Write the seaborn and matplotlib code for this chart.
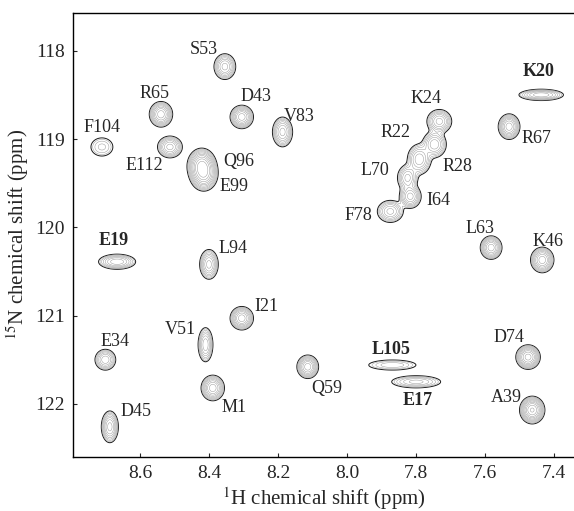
import numpy as np
import seaborn as sns
import matplotlib.pyplot as plt

# peak table (1H ppm, 15N ppm, line widths, height)
names = ['S53', 'R65', 'D43', 'V83', 'F104', 'E112', 'Q96', 'E99', 'E19', 'L94',
         'I21', 'V51', 'M1', 'E34', 'D45', 'Q59', 'L105', 'E17', 'D74', 'A39',
         'L63', 'K46', 'K20', 'K24', 'R67', 'R22', 'L70', 'R28', 'F78', 'I64']
h_ppm = [8.354, 8.539, 8.305, 8.187, 8.710, 8.513, 8.421, 8.415, 8.666, 8.400,
         8.305, 8.410, 8.389, 8.700, 8.687, 8.114, 7.869, 7.800, 7.476, 7.464,
         7.583, 7.435, 7.438, 7.733, 7.531, 7.791, 7.825, 7.747, 7.875, 7.817]
n_ppm = [118.18, 118.72, 118.75, 118.92, 119.09, 119.09, 119.30, 119.40, 120.39, 120.42,
         121.03, 121.33, 121.82, 121.50, 122.26, 121.58, 121.56, 121.75, 121.47, 122.07,
         120.23, 120.37, 118.50, 118.80, 118.86, 119.23, 119.44, 119.06, 119.82, 119.65]
h_width = [0.014, 0.014, 0.014, 0.013, 0.021, 0.016, 0.016, 0.016, 0.025, 0.012,
           0.014, 0.010, 0.014, 0.014, 0.011, 0.013, 0.042, 0.037, 0.014, 0.014,
           0.013, 0.014, 0.030, 0.016, 0.013, 0.016, 0.014, 0.016, 0.018, 0.014]
n_width = [0.065, 0.060, 0.055, 0.075, 0.068, 0.055, 0.075, 0.075, 0.040, 0.075,
           0.055, 0.090, 0.060, 0.055, 0.080, 0.055, 0.035, 0.036, 0.055, 0.060,
           0.055, 0.060, 0.030, 0.060, 0.060, 0.080, 0.070, 0.070, 0.060, 0.060]
height = [1.0, 1.5, 1.5, 1.0, 0.25, 1.0, 2.5, 2.0, 0.8, 1.0,
          1.5, 0.8, 1.5, 0.8, 1.0, 1.5, 0.3, 0.5, 2.0, 2.5,
          1.5, 1.5, 0.8, 1.0, 1.5, 0.8, 0.7, 0.8, 0.7, 1.0]
bold_names = ['E19', 'K20', 'L105', 'E17']

x_ticks = [8.6, 8.4, 8.2, 8.0, 7.8, 7.6, 7.4]
y_ticks = [118, 119, 120, 121, 122]

# label offsets from each peak, in pixels
label_offset = {
    'S53': (-21, 17), 'R65': (-6, 21), 'D43': (14, 20), 'V83': (17, 15),
    'F104': (0, 19), 'E112': (-26, -19), 'Q96': (37, 4), 'E99': (30, -12),
    'E19': (-3, 21), 'L94': (24, 16), 'I21': (25, 12), 'V51': (-25, 15),
    'M1': (21, -20), 'E34': (10, 18), 'D45': (26, 15), 'Q59': (19, -22),
    'L105': (-1, 16), 'E17': (2, -19), 'D74': (-19, 20), 'A39': (-26, 13),
    'L63': (-11, 19), 'K46': (6, 18), 'K20': (-3, 23), 'K24': (-13, 23),
    'R67': (27, -12), 'R22': (-24, 27), 'L70': (-33, 7), 'R28': (23, -22),
    'F78': (-32, -4), 'I64': (28, -4),
}

sns.set_style('ticks')
plt.rcParams['font.family'] = ['Liberation Serif', 'DejaVu Serif']
plt.rcParams['mathtext.fontset'] = 'stix'

fig = plt.figure(figsize=(5.74, 5.11), dpi=100)
ax = fig.add_axes([0.127, 0.106, 0.873, 0.869])

# build the spectrum as a sum of 2D gaussians
hx = np.linspace(7.34, 8.80, 900)
ny = np.linspace(117.5, 122.7, 900)
X, Y = np.meshgrid(hx, ny)
Z = np.zeros_like(X)
for h, n, sh, sn, a in zip(h_ppm, n_ppm, h_width, n_width, height):
    Z += a * np.exp(-0.5 * (((X - h) / sh) ** 2 + ((Y - n) / sn) ** 2))

levels = 0.08 * 1.4 ** np.arange(11)
colors = ['0.1'] + ['0.6'] * (len(levels) - 1)
widths = [0.7] + [0.35] * (len(levels) - 1)
ax.contour(X, Y, Z, levels=levels, colors=colors, linewidths=widths)

for name, h, n in zip(names, h_ppm, n_ppm):
    dx, dy = label_offset[name]
    ax.annotate(name, (h, n), xytext=(dx, dy), textcoords='offset pixels',
                ha='center', va='center', fontsize=13,
                fontweight='bold' if name in bold_names else 'normal')

ax.set_xlim(8.794, 7.343)
ax.set_ylim(122.60, 117.57)
ax.set_xticks(x_ticks)
ax.set_yticks(y_ticks)
ax.set_xticklabels([f'{v:.1f}' for v in x_ticks])
ax.tick_params(direction='in', length=3, width=0.8, labelsize=14, pad=6)
sns.despine(ax=ax, right=True, top=False)
for s in ax.spines.values():
    s.set_linewidth(1.0)
    s.set_color('black')

ax.set_xlabel(r'$^{1}$H chemical shift (ppm)', fontsize=15, labelpad=2)
ax.set_ylabel(r'$^{15}$N chemical shift (ppm)', fontsize=15, labelpad=3)

fig.savefig('out.png', dpi=100)
